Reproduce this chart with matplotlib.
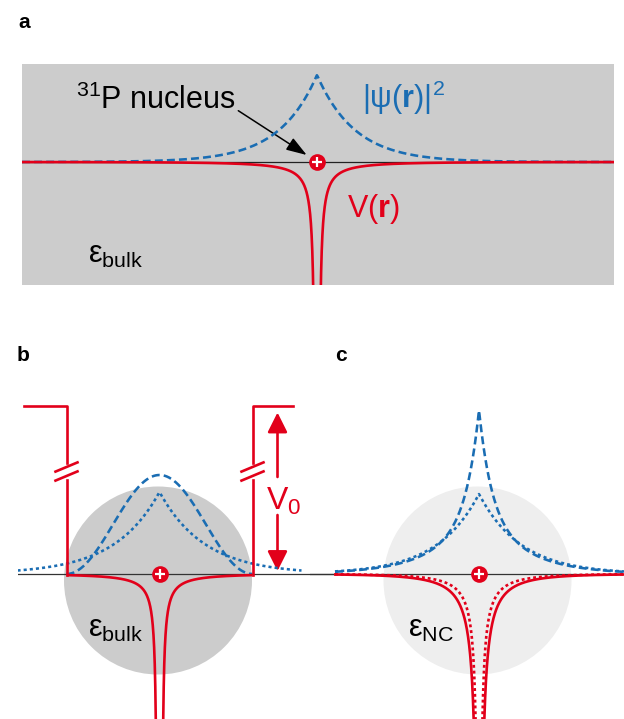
import numpy as np
import matplotlib.pyplot as plt
from matplotlib.patches import Circle, FancyArrowPatch

plt.rcParams['font.family'] = ['Liberation Sans', 'DejaVu Sans']
plt.rcParams['mathtext.fontset'] = 'custom'
plt.rcParams['mathtext.rm'] = 'Liberation Sans'
plt.rcParams['mathtext.bf'] = 'Liberation Sans:bold'
plt.rcParams['mathtext.it'] = 'Liberation Sans:italic'

RED = '#e2001a'
BLUE = '#1a6db3'
W, H = 624, 719

# sketch values, pixel units, nucleus at the origin
# panel a: bulk donor
a_psi_peak, a_psi_decay = 87, 38
a_v_amp, a_v_screen, a_v_core = 300, 100, 1.5
a_extent = [-295, 297]

# panel b: nanocrystal with barrier, eps = bulk
b_well = [-93, 93]
b_top = 168                      # barrier top (V0)
b_top_ends = [-135.5, 133.5]
b_break = [111, 94]              # gap in the barrier line
b_psi_conf_peak = 99
b_psi_bulk_peak, b_psi_bulk_decay = 82, 45
b_psi_extent = [-142, 142]
b_v_amp, b_v_screen, b_v_core = 260, 100, 2.0

# panel c: nanocrystal, eps = NC (dashed = confined, dotted = bulk)
c_psi_dash = [95, 12, 69, 42]    # amp1, decay1, amp2, decay2
c_psi_dot_peak, c_psi_dot_decay = 80, 42
c_v_solid = [800, 60, 0.3]       # amp, screen, core
c_v_dot = [500, 60, 0.2]
c_extent = [-144, 145]


def coulomb(r, amp, screen, core):
    return -amp * np.exp(-r / screen) / (r - core)


def px_axes(fig, x0, x1, y0, y1, cx, cy):
    ax = fig.add_axes([x0 / W, 1 - y1 / H, (x1 - x0) / W, (y1 - y0) / H])
    ax.set_xlim(x0 - cx, x1 - cx)
    ax.set_ylim(cy - y1, cy - y0)
    ax.set_xticks([])
    ax.set_yticks([])
    for sp in ax.spines.values():
        sp.set_visible(False)
    ax.patch.set_alpha(0)
    return ax


def nucleus(ax):
    ax.plot(0, 0, 'o', ms=12, color=RED, mec='none', zorder=10)
    ax.plot(0, 0, '+', ms=7, mew=1.6, color='white', zorder=11)


def red_branches(ax, amp, screen, core, rmax, **kw):
    r = np.geomspace(core + 0.05, rmax, 600)
    v = coulomb(r, amp, screen, core)
    ax.plot(r, v, color=RED, solid_capstyle='butt', **kw)
    ax.plot(-r, v, color=RED, solid_capstyle='butt', **kw)


BLW = 1.85
DASH = (0, (3.1, 1.6))
DOT = (0, (1.2, 1.2))

fig = plt.figure(figsize=(W / 100, H / 100), dpi=100)

# ---------------- panel a ----------------
ax = px_axes(fig, 22, 614, 64, 285, 317, 162)
ax.patch.set_alpha(1)
ax.set_facecolor('#cccccc')
ax.axhline(0, color='#222222', lw=0.9, zorder=1)
x = np.linspace(a_extent[0], a_extent[1] + 20, 800)
ax.plot(x, a_psi_peak * np.exp(-np.abs(x) / a_psi_decay), color=BLUE, lw=BLW, ls=DASH, zorder=2)
red_branches(ax, a_v_amp, a_v_screen, a_v_core, 320, lw=1.9, zorder=3)
nucleus(ax)
ax.text(-241, 53, r'$^{31}$P nucleus', fontsize=22, ha='left', va='baseline')
ax.add_patch(FancyArrowPatch((-78.7, 51.3), (-10.3, 7), arrowstyle='-|>,head_length=1.25,head_width=0.42',
                             mutation_scale=10, color='black', lw=1.1, shrinkA=0, shrinkB=0))
ax.text(45, 54, r'$|\mathrm{ψ}(\mathbf{r})|^{2}$', fontsize=22, color=BLUE, ha='left', va='baseline')
ax.text(30, -55, r'V($\mathbf{r}$)', fontsize=22, color=RED, ha='left', va='baseline')
ax.text(-229, -101, r'$\mathrm{ε}_{\mathrm{bulk}}$', fontsize=22, ha='left', va='baseline')

# ---------------- panel b ----------------
ax = px_axes(fig, 18, 335, 390, 719, 159.5, 574)
ax.add_patch(Circle((-1.5, -6.5), 94, color='#cccccc', ec='none', zorder=0))
ax.axhline(0, color='#333333', lw=0.9, zorder=1)
x = np.linspace(b_well[0], b_well[1], 400)
ax.plot(x, b_psi_conf_peak * np.cos(np.pi * x / (2 * b_well[1])) ** 2, color=BLUE, lw=BLW, ls=DASH, zorder=2)
x = np.linspace(b_psi_extent[0], b_psi_extent[1], 600)
ax.plot(x, b_psi_bulk_peak * np.exp(-np.abs(x) / b_psi_bulk_decay), color=BLUE, lw=BLW, ls=DOT, zorder=2)
red_branches(ax, b_v_amp, b_v_screen, b_v_core, b_well[1], lw=1.9, zorder=3)
edge_v = coulomb(b_well[1], b_v_amp, b_v_screen, b_v_core)
for side, end in zip(b_well, b_top_ends):
    ax.plot([end, side, side], [b_top, b_top, b_break[0]], color=RED, lw=1.9, zorder=3)
    ax.plot([side, side], [b_break[1], edge_v], color=RED, lw=1.9, zorder=3)
    for yb in [b_break[0] - 4, b_break[1] + 4]:
        ax.plot([side - 11, side + 11], [yb - 4.6, yb + 4.6], color=RED, lw=1.9, zorder=3)
ax.add_patch(FancyArrowPatch((118, 97), (118, 161.5), arrowstyle='-|>,head_length=1.2,head_width=0.6',
                             mutation_scale=10, color=RED, lw=1.9, shrinkA=0, shrinkB=0))
ax.add_patch(FancyArrowPatch((118, 59), (118, 3), arrowstyle='-|>,head_length=1.2,head_width=0.6',
                             mutation_scale=10, color=RED, lw=1.9, shrinkA=0, shrinkB=0))
ax.text(107, 64, r'V$_{0}$', fontsize=23, color=RED, ha='left', va='baseline')
nucleus(ax)
ax.text(-71.5, -63, r'$\mathrm{ε}_{\mathrm{bulk}}$', fontsize=22, ha='left', va='baseline')

# ---------------- panel c ----------------
ax = px_axes(fig, 310, 624, 390, 719, 479, 574)
ax.add_patch(Circle((-1.5, -6.5), 94, color='#eeeeee', ec='none', zorder=0))
ax.axhline(0, color='#333333', lw=0.9, zorder=1)
x = np.linspace(c_extent[0], c_extent[1], 800)
ax.plot(x, c_psi_dash[0] * np.exp(-np.abs(x) / c_psi_dash[1]) + c_psi_dash[2] * np.exp(-np.abs(x) / c_psi_dash[3]),
        color=BLUE, lw=BLW, ls=DASH, zorder=2)
ax.plot(x, c_psi_dot_peak * np.exp(-np.abs(x) / c_psi_dot_decay), color=BLUE, lw=BLW, ls=DOT, zorder=2)
red_branches(ax, *c_v_solid, c_extent[1], lw=1.9, zorder=3)
red_branches(ax, *c_v_dot, c_extent[1], lw=1.9, ls=(0, (1.1, 1.1)), zorder=3)
nucleus(ax)
ax.text(-71, -63, r'$\mathrm{ε}_{\mathrm{NC}}$', fontsize=22, ha='left', va='baseline')

# panel letters
for lab, px, py in [('a', 18, 28), ('b', 17, 361), ('c', 335, 361)]:
    fig.text(px / W, 1 - py / H, lab, fontsize=15, fontweight='bold', ha='left', va='baseline')

fig.savefig('out.png', dpi=100)
